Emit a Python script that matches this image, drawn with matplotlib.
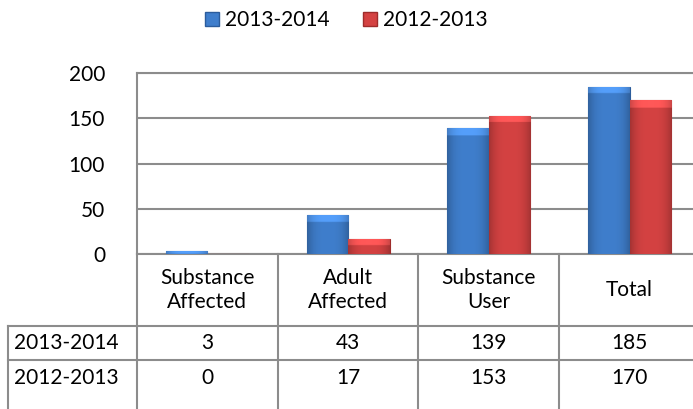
import numpy as np
import matplotlib
matplotlib.use("Agg")
import matplotlib.pyplot as plt
from matplotlib.patches import Patch
from matplotlib.colors import to_rgb
import matplotlib.transforms as mtransforms

categories = ["Substance\nAffected", "Adult\nAffected", "Substance\nUser", "Total"]
series_names = ["2013-2014", "2012-2013"]
values_2013_2014 = [3, 43, 139, 185]
values_2012_2013 = [0, 17, 153, 170]
y_ticks = [0, 50, 100, 150, 200]

plt.rcParams['font.family'] = ['Lato', 'DejaVu Sans']

blue = "#3F7ECC"
blue_edge = "#2B5C9C"
red = "#D44242"
red_edge = "#9E2C2B"
grid_col = "#8C8C8C"


def shade_bar(ax, patch, base, bevel_units=7.5):
    # fake the 3D bevel look: darker sides, lighter cap on top
    x0, y0 = patch.get_x(), patch.get_y()
    w, h = patch.get_width(), patch.get_height()
    if h <= 0:
        return
    c = np.array(to_rgb(base))
    ny, nx = 120, 40
    u = np.linspace(-1, 1, nx)
    side = 1.0 - 0.22 * np.abs(u) ** 3
    img = np.ones((ny, nx, 3)) * c * side[None, :, None]
    v = np.linspace(1, 0, ny) * h  # height from bottom, top row first
    cap = (h - v) < min(bevel_units, h * 0.9)
    img[cap] = np.clip(img[cap] * 1.18 + 0.04, 0, 1)
    img = np.clip(img, 0, 1)
    im = ax.imshow(img, extent=[x0, x0 + w, y0, y0 + h], aspect='auto',
                   zorder=patch.get_zorder() + 0.1, interpolation='bilinear')
    im.set_clip_path(patch)


fig = plt.figure(figsize=(6.93, 4.09), dpi=100)
# plot area: x 137..700 px, y 73..254 px (700 runs past the right edge)
W, H = 693.0, 409.0
ax = fig.add_axes([137 / W, 1 - 254 / H, (700 - 137) / W, (254 - 73) / H])

x = np.arange(len(categories))
bw = 0.295
b1 = ax.bar(x - bw / 2, values_2013_2014, bw, color=blue, edgecolor=blue_edge, linewidth=0.8, zorder=3)
b2 = ax.bar(x + bw / 2, values_2012_2013, bw, color=red, edgecolor=red_edge, linewidth=0.8, zorder=3)
for p in b1:
    shade_bar(ax, p, blue)
for p in b2:
    shade_bar(ax, p, red)

ax.set_xlim(-0.5, 3.5)
ax.set_ylim(0, 200)
ax.set_yticks(y_ticks)
ax.set_yticklabels([str(t) for t in y_ticks], fontsize=15)
ax.tick_params(axis='y', length=0, pad=23)
ax.set_xticks([])
ax.yaxis.grid(True, color=grid_col, linewidth=1.5, zorder=0)
for s in ax.spines.values():
    s.set_color(grid_col)
    s.set_linewidth(1.5)

# data table under the chart: x in data units, y in axes units
trans = mtransforms.blended_transform_factory(ax.transData, ax.transAxes)
row_top = -0.398
row_h = 0.19
label_left = -0.5 - (137 - 8) / 140.75
line_kw = dict(color=grid_col, linewidth=1.5, transform=trans, clip_on=False)

for b in np.arange(-0.5, 4.0, 1.0):
    ax.plot([b, b], [0, -0.95], **line_kw)
ax.plot([label_left, label_left], [row_top, -0.95], **line_kw)
for k in range(2):
    yy = row_top - k * row_h
    ax.plot([label_left, 3.5], [yy, yy], **line_kw)

for i, cat in enumerate(categories):
    ax.text(i, row_top / 2, cat, ha='center', va='center', fontsize=15,
            linespacing=1.3, transform=trans)

rows = [values_2013_2014, values_2012_2013]
for k, (name, vals) in enumerate(zip(series_names, rows)):
    yc = row_top - (k + 0.5) * row_h
    ax.text(label_left + 0.04, yc, name, ha='left', va='center', fontsize=15, transform=trans)
    for i, v in enumerate(vals):
        ax.text(i, yc, str(v), ha='center', va='center', fontsize=15, transform=trans)

handles = [Patch(facecolor=blue, edgecolor=blue_edge), Patch(facecolor=red, edgecolor=red_edge)]
fig.legend(handles, series_names, loc='center', bbox_to_anchor=(0.5, 1 - 20 / H), ncol=2,
           frameon=False, fontsize=15, handlelength=0.65, handleheight=0.65,
           handletextpad=0.3, columnspacing=1.6)

fig.savefig("out.png", dpi=100)
